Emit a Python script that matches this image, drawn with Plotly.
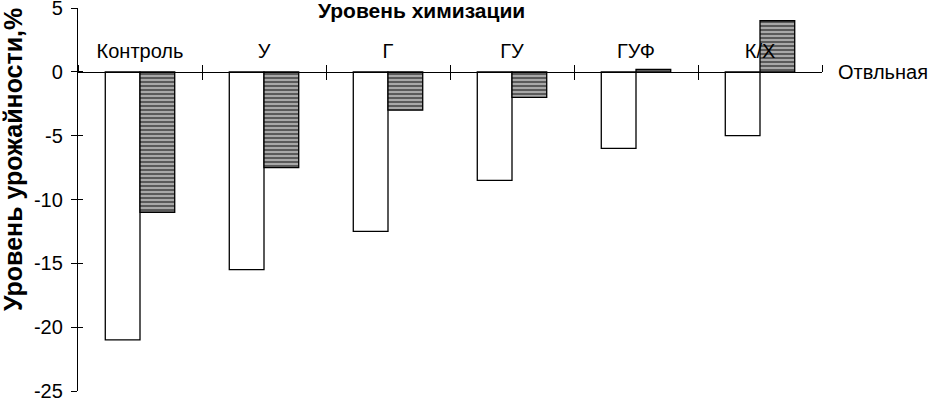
import plotly.graph_objects as go

categories = ["Контроль", "У", "Г", "ГУ", "ГУФ", "К/Х"]
series_white = [-21, -15.5, -12.5, -8.5, -6, -5]
series_hatched = [-11, -7.5, -3, -2, 0.2, 4]
y_ticks = [-25, -20, -15, -10, -5, 0, 5]
y_ticktext = ["-25", "-20", "-15", "-10", "-5", "0", "5"]

FONT = "Arial, Liberation Sans, sans-serif"
ymin, ymax = -25, 5

fig = go.Figure()
fig.add_trace(go.Bar(
    x=categories, y=series_white, name="white",
    marker=dict(color="white", line=dict(color="black", width=1.3)),
    showlegend=False,
))
fig.add_trace(go.Bar(
    x=categories, y=series_hatched, name="hatched",
    marker=dict(color="#9a9a9a", line=dict(color="black", width=1.3),
                pattern=dict(shape="-", fgcolor="#5a5a5a", bgcolor="#a8a8a8",
                             size=4, solidity=0.5, fillmode="replace")),
    showlegend=False,
))
# invisible helper trace so the overlay axes (crossing tick halves) are drawn
fig.add_trace(go.Scatter(x=categories, y=series_white, xaxis="x2", yaxis="y2",
                         mode="markers", marker=dict(opacity=0), hoverinfo="skip",
                         showlegend=False))

pos0 = (0 - ymin) / (ymax - ymin)

fig.update_layout(
    width=932, height=399,
    margin=dict(l=78, r=110, t=8, b=8, autoexpand=False),
    paper_bgcolor="white", plot_bgcolor="white",
    barmode="group", bargap=0.44, bargroupgap=0,
    font=dict(family=FONT, size=20, color="black"),
    xaxis=dict(
        type="category", categoryorder="array", categoryarray=categories,
        range=[-0.5, len(categories) - 0.5],
        anchor="free", position=pos0, side="top", automargin=False,
        showline=True, linecolor="black", linewidth=1.3,
        ticks="outside", tickson="boundaries", ticklen=7, tickwidth=1.3, tickcolor="black",
        ticklabelstandoff=6, ticklabeloverflow="allow",
        tickfont=dict(family=FONT, size=20, color="black"),
        showgrid=False, zeroline=False,
    ),
    xaxis2=dict(
        type="category", categoryorder="array", categoryarray=categories,
        matches="x", overlaying="x", automargin=False,
        anchor="free", position=pos0, side="top",
        showline=False, ticks="inside", tickson="boundaries", ticklen=7,
        tickwidth=1.3, tickcolor="black", showticklabels=False,
        showgrid=False, zeroline=False,
    ),
    yaxis=dict(
        range=[ymin, ymax], tickvals=y_ticks, ticktext=y_ticktext, automargin=False,
        showline=True, linecolor="black", linewidth=1.3,
        ticks="outside", ticklen=6, tickwidth=1.3, tickcolor="black",
        ticklabelstandoff=4, ticklabeloverflow="allow",
        tickfont=dict(family=FONT, size=20, color="black"),
        showgrid=False, zeroline=False,
    ),
    yaxis2=dict(
        matches="y", overlaying="y", side="left", anchor="x", automargin=False,
        tickvals=y_ticks, ticks="inside", ticklen=5, tickwidth=1.3, tickcolor="black",
        showticklabels=False, showline=False, showgrid=False, zeroline=False,
    ),
    annotations=[
        dict(text="<b>Уровень химизации</b>", xref="paper", yref="paper",
             x=0.462, y=1, yanchor="middle", yshift=-2, showarrow=False,
             font=dict(family=FONT, size=21, color="black")),
        dict(text="<b>Уровень урожайности,%</b>", xref="paper", yref="paper",
             x=0, y=0.603, xanchor="center", yanchor="middle", xshift=-65,
             textangle=-90, showarrow=False,
             font=dict(family=FONT, size=25, color="black")),
        dict(text="Отвльная", xref="paper", yref="y", x=1, y=0,
             xanchor="left", yanchor="middle", xshift=14, showarrow=False,
             font=dict(family=FONT, size=20, color="black")),
    ],
)

fig.write_html("out.html", config={"displayModeBar": False},
               post_script="document.body.style.margin='0';document.body.style.overflow='hidden';")
